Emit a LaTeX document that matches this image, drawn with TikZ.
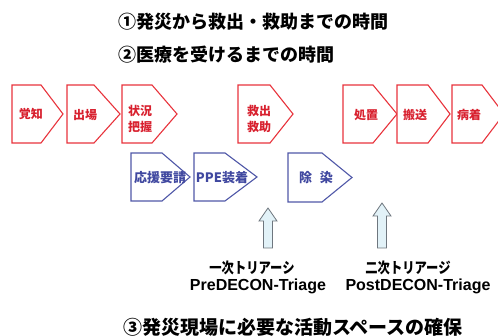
\documentclass[tikz,border=0pt]{standalone}
\usepackage{fontspec}
\setmainfont{Liberation Sans}
\newfontfamily\jp{Noto Sans CJK JP}
\definecolor{redc}{HTML}{E8333C}
\definecolor{redtxtc}{HTML}{D8202E}
\definecolor{bluec}{HTML}{5058A8}
\definecolor{bluetxtc}{HTML}{4048A0}
\definecolor{arrowfill}{HTML}{E2F2F8}
\definecolor{arrowline}{HTML}{6E767E}
\newcommand\pentagon[7]{% name, style, x, ytop, w, h, rectw
  \draw[#2] (#3,#4) coordinate (#1) -- ++(#7,0) -- ++({#5-#7},{#6/2}) -- ++({#7-#5},{#6/2}) -- ++(-#7,0) -- cycle;}
\newcommand\uparr[4]{% name, cx, ytip, ybase
  \draw[uparrowstyle] ({#2-4.5},#4) coordinate (#1) -- ({#2-4.5},{#3+13}) -- ({#2-9},{#3+13}) -- (#2,#3) -- ({#2+9},{#3+13}) -- ({#2+4.5},{#3+13}) -- ({#2+4.5},#4) -- cycle;}
\begin{document}
\begin{tikzpicture}[x=1pt,y=-1pt,
  redbox/.style={draw=redc, line width=1.1pt, fill=white},
  bluebox/.style={draw=bluec, line width=1.1pt, fill=white},
  redtxt/.style={text=redtxtc, font=\jp\bfseries\fontsize{12}{16}\selectfont, inner sep=0pt, align=left},
  bluetxt/.style={text=bluetxtc, font=\jp\bfseries\fontsize{13}{16}\selectfont, inner sep=0pt},
  uparrowstyle/.style={draw=arrowline, fill=arrowfill, line width=0.8pt},
  title/.style={font=\jp\bfseries\fontsize{18}{20}\selectfont, anchor=west, inner sep=0pt},
  triagejp/.style={font=\jp\bfseries\fontsize{15}{18}\selectfont, inner sep=0pt, xscale=0.82},
  triageen/.style={font=\bfseries\fontsize{16}{18}\selectfont, inner sep=0pt}]
\useasboundingbox (0,0) rectangle (498,336);
\clip (0,0) rectangle (498,336);
% titles
\node[title] (t1) at (118,22) {①発災から救出・救助までの時間};
\node[title] (t2) at (118,55) {②医療を受けるまでの時間};
\node[title, font=\jp\bfseries\fontsize{19}{21}\selectfont] (t3) at (123,327) {③発災現場に必要な活動スペースの確保};
% red boxes
\pentagon{r1}{redbox}{12}{85}{51}{58}{29}
\pentagon{r2}{redbox}{67}{85}{53}{58}{27}
\pentagon{r3}{redbox}{122}{85}{55}{58}{30}
\pentagon{r4}{redbox}{238}{85}{55}{58}{32}
\pentagon{r5}{redbox}{343}{85}{54}{58}{30}
\pentagon{r6}{redbox}{397}{85}{53}{58}{31}
\pentagon{r7}{redbox}{452}{85}{52}{58}{30}
\node[redtxt] (l1) at (31,114) {覚知};
\node[redtxt] (l2) at (85,115) {出場};
\node[redtxt, anchor=west] (l3) at (128,119) {状況\\把握};
\node[redtxt, anchor=west] (l4) at (247,119) {救出\\救助};
\node[redtxt] (l5) at (366,115) {処置};
\node[redtxt] (l6) at (415,115) {搬送};
\node[redtxt] (l7) at (469,115) {病着};
% blue boxes
\pentagon{b1}{bluebox}{131}{153}{59}{48}{31}
\pentagon{b2}{bluebox}{194}{153}{63}{48}{31}
\pentagon{b3}{bluebox}{288}{153}{64}{49}{34}
\node[bluetxt] (m1) at (160,178) {応援要請};
\node[bluetxt] (m2) at (222,178) {PPE装着};
\node[bluetxt] (m3) at (316,178) {除\hspace{8pt}染};
% arrows
\uparr{a1}{268}{208}{248}
\uparr{a2}{382}{203}{248}
% labels
\node[triagejp] (j1) at (252,268) {一次トリアーシ};
\node[triagejp] (j2) at (408,268) {二次トリアージ};
\node[triageen] (e1) at (258,286) {PreDECON-Triage};
\node[triageen] (e2) at (418,286) {PostDECON-Triage};
\end{tikzpicture}
\end{document}
